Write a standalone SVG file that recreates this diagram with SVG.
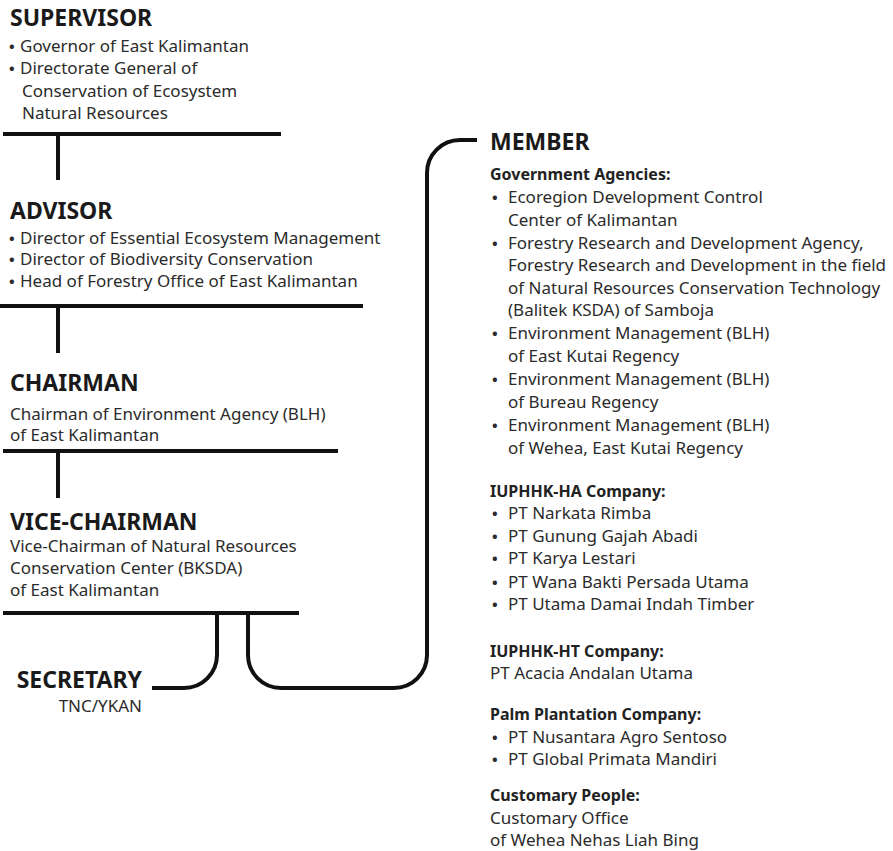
<svg xmlns="http://www.w3.org/2000/svg" width="893" height="851" viewBox="0 0 893 851">
<style>
.h{font-family:"Noto Sans","Open Sans",sans-serif;font-weight:bold;font-size:23px;fill:#1a1a1a}
.t{font-family:"Noto Sans","Open Sans",sans-serif;font-size:17px;fill:#2b2b2b}
.s{font-family:"Noto Sans","Open Sans",sans-serif;font-weight:bold;font-size:16px;fill:#222}
.b{font-family:"Noto Sans","Open Sans",sans-serif;font-size:15px;fill:#2b2b2b;font-weight:bold}
.ln{stroke:#111;stroke-width:4;fill:none;stroke-linecap:butt}
</style>
<rect width="893" height="851" fill="#fff"/>
<g id="connectors">
<line class="ln" x1="3" y1="134" x2="281" y2="134"/>
<line class="ln" x1="58" y1="134" x2="58" y2="180"/>
<line class="ln" x1="0" y1="306" x2="363" y2="306"/>
<line class="ln" x1="58" y1="306" x2="58" y2="353"/>
<line class="ln" x1="3" y1="451" x2="338" y2="451"/>
<line class="ln" x1="58" y1="451" x2="58" y2="498"/>
<line class="ln" x1="3" y1="613" x2="299" y2="613"/>
<path class="ln" d="M217 613 V655 A33 33 0 0 1 184 688 H152"/>
<path class="ln" d="M248 613 V655 A33 33 0 0 0 281 688 H394 A33 33 0 0 0 427 655 V173 A33 33 0 0 1 460 140 H477"/>
</g>
<g id="supervisor">
<text class="h" x="10" y="26">SUPERVISOR</text>
<text class="b" x="9" y="52">•</text><text class="t" x="20" y="52">Governor of East Kalimantan</text>
<text class="b" x="9" y="74">•</text><text class="t" x="20" y="74">Directorate General of</text>
<text class="t" x="22" y="97">Conservation of Ecosystem</text>
<text class="t" x="22" y="119">Natural Resources</text>
</g>
<g id="advisor">
<text class="h" x="10" y="219">ADVISOR</text>
<text class="b" x="9" y="244">•</text><text class="t" x="20" y="244">Director of Essential Ecosystem Management</text>
<text class="b" x="9" y="265">•</text><text class="t" x="20" y="265">Director of Biodiversity Conservation</text>
<text class="b" x="9" y="287">•</text><text class="t" x="20" y="287">Head of Forestry Office of East Kalimantan</text>
</g>
<g id="chairman">
<text class="h" x="10" y="391">CHAIRMAN</text>
<text class="t" x="10" y="420">Chairman of Environment Agency (BLH)</text>
<text class="t" x="10" y="441">of East Kalimantan</text>
</g>
<g id="vice-chairman">
<text class="h" x="10" y="530">VICE-CHAIRMAN</text>
<text class="t" x="10" y="552">Vice-Chairman of Natural Resources</text>
<text class="t" x="10" y="574">Conservation Center (BKSDA)</text>
<text class="t" x="10" y="596">of East Kalimantan</text>
</g>
<g id="secretary">
<text class="h" x="142" y="688" text-anchor="end">SECRETARY</text>
<text class="t" x="142" y="712" text-anchor="end">TNC/YKAN</text>
</g>
<g id="member">
<text class="h" x="490" y="150">MEMBER</text>
<text class="s" x="490" y="180">Government Agencies:</text>
<text class="b" x="492" y="203">•</text><text class="t" x="508" y="203">Ecoregion Development Control</text>
<text class="t" x="508" y="226">Center of Kalimantan</text>
<text class="b" x="492" y="249">•</text><text class="t" x="508" y="249">Forestry Research and Development Agency,</text>
<text class="t" x="508" y="271">Forestry Research and Development in the field</text>
<text class="t" x="508" y="294">of Natural Resources Conservation Technology</text>
<text class="t" x="508" y="316">(Balitek KSDA) of Samboja</text>
<text class="b" x="492" y="339">•</text><text class="t" x="508" y="339">Environment Management (BLH)</text>
<text class="t" x="508" y="362">of East Kutai Regency</text>
<text class="b" x="492" y="385">•</text><text class="t" x="508" y="385">Environment Management (BLH)</text>
<text class="t" x="508" y="408">of Bureau Regency</text>
<text class="b" x="492" y="431">•</text><text class="t" x="508" y="431">Environment Management (BLH)</text>
<text class="t" x="508" y="454">of Wehea, East Kutai Regency</text>
<text class="s" x="490" y="497">IUPHHK-HA Company:</text>
<text class="b" x="492" y="519">•</text><text class="t" x="508" y="519">PT Narkata Rimba</text>
<text class="b" x="492" y="542">•</text><text class="t" x="508" y="542">PT Gunung Gajah Abadi</text>
<text class="b" x="492" y="564">•</text><text class="t" x="508" y="564">PT Karya Lestari</text>
<text class="b" x="492" y="588">•</text><text class="t" x="508" y="588">PT Wana Bakti Persada Utama</text>
<text class="b" x="492" y="610">•</text><text class="t" x="508" y="610">PT Utama Damai Indah Timber</text>
<text class="s" x="490" y="657">IUPHHK-HT Company:</text>
<text class="t" x="490" y="679">PT Acacia Andalan Utama</text>
<text class="s" x="490" y="720">Palm Plantation Company:</text>
<text class="b" x="492" y="743">•</text><text class="t" x="508" y="743">PT Nusantara Agro Sentoso</text>
<text class="b" x="492" y="765">•</text><text class="t" x="508" y="765">PT Global Primata Mandiri</text>
<text class="s" x="490" y="801">Customary People:</text>
<text class="t" x="490" y="824">Customary Office</text>
<text class="t" x="490" y="846">of Wehea Nehas Liah Bing</text>
</g>
</svg>
